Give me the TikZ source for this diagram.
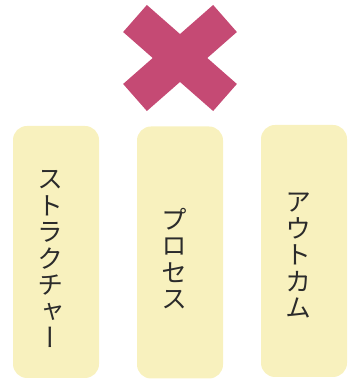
\documentclass[tikz,border=0pt]{standalone}
\usepackage{fontspec}
\usepackage{tikz}
\newfontfamily\jpfont[RawFeature=+vert]{Noto Sans CJK JP}
\definecolor{crosspink}{HTML}{C54A74}
\definecolor{cardyellow}{HTML}{F8F1BE}
\definecolor{inkgray}{HTML}{2B2B2B}
\tikzset{
	card/.style={shape=rectangle,rounded corners=14pt,fill=cardyellow,minimum width=86pt,minimum height=252pt,inner sep=0pt},
	vlabel/.style={align=center,text=inkgray,font=\jpfont\fontsize{26}{26.5}\selectfont,inner sep=0pt},
	crossbar/.style={draw=crosspink,line width=36pt,line cap=butt}
}
\begin{document}
\begin{tikzpicture}[x=1pt,y=1pt]
	\useasboundingbox (0,0) rectangle (349,379);
	
	\coordinate (xa) at (135,360.5);
	\coordinate (xb) at (225,281.5);
	\coordinate (xc) at (225,360.5);
	\coordinate (xd) at (135,281.5);
	\path[crossbar] (xa) edge (xb);
	\path[crossbar] (xc) edge (xd);
	
	\node[card] (structure) at (56,127)     {};
	\node[card] (process) at (180,126.5)    {};
	\node[card] (outcome) at (304,128)      {};
	\node[vlabel] (structuretext) at ([shift={(-6,-7)}]structure.center) {ス\\ト\\ラ\\ク\\チ\\ャ\\ー};
	\node[vlabel] (processtext) at ([shift={(-6,-6)}]process.center)     {プ\\ロ\\セ\\ス};
	\node[vlabel] (outcometext) at ([shift={(-6,-5)}]outcome.center)     {ア\\ウ\\ト\\カ\\ム};
\end{tikzpicture}
\end{document}
